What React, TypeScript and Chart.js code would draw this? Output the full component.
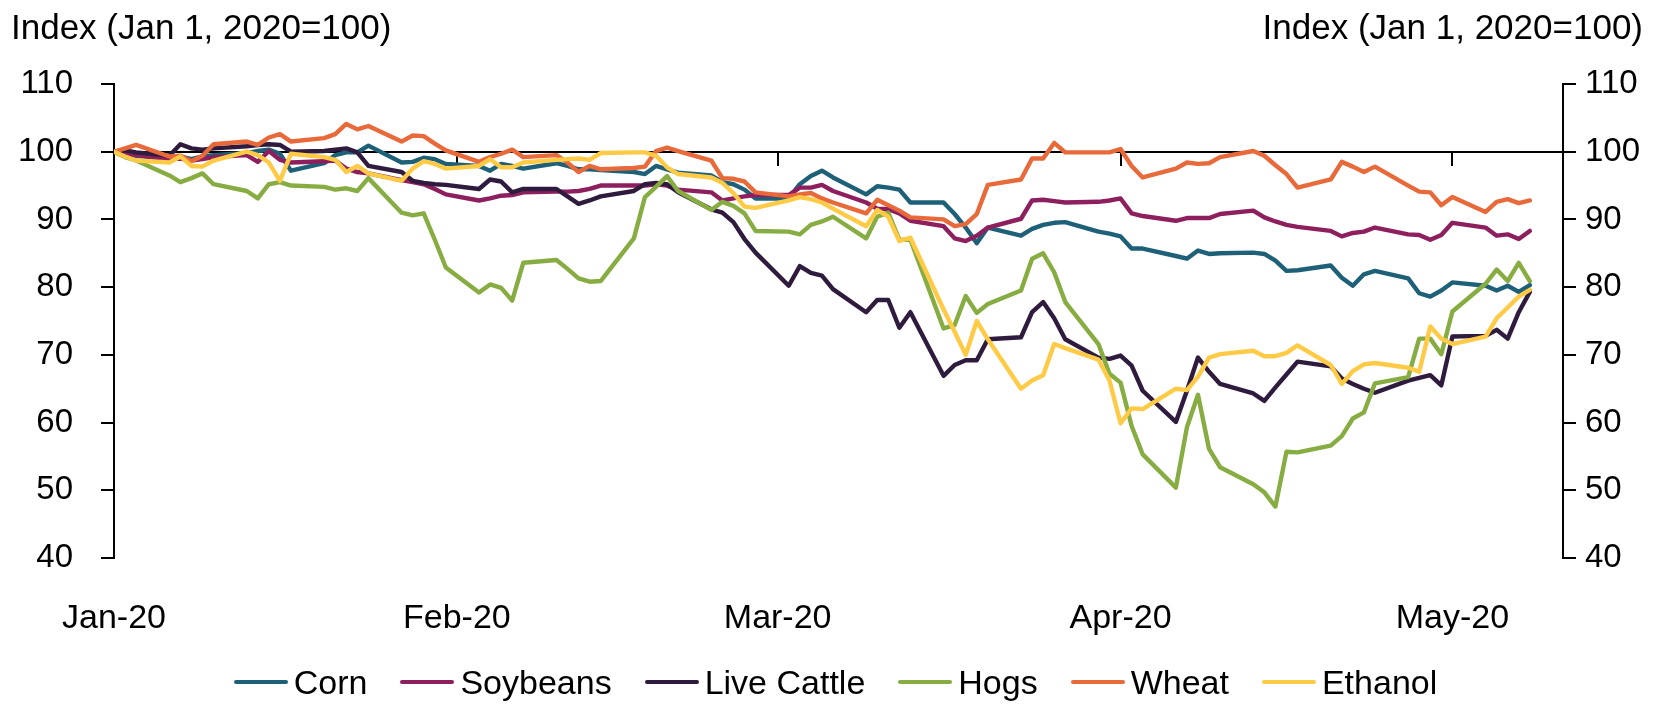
import React, { useEffect, useRef, useMemo } from "react";
import { Chart, registerables } from "chart.js";

Chart.register(...registerables);

// ---------- DATA ----------
const dates = [
  "2020-01-01", "2020-01-02", "2020-01-03",
  "2020-01-06", "2020-01-07", "2020-01-08", "2020-01-09", "2020-01-10",
  "2020-01-13", "2020-01-14", "2020-01-15", "2020-01-16", "2020-01-17",
  "2020-01-20", "2020-01-21", "2020-01-22", "2020-01-23", "2020-01-24",
  "2020-01-27", "2020-01-28", "2020-01-29", "2020-01-30", "2020-01-31",
  "2020-02-03", "2020-02-04", "2020-02-05", "2020-02-06", "2020-02-07",
  "2020-02-10", "2020-02-11", "2020-02-12", "2020-02-13", "2020-02-14",
  "2020-02-17", "2020-02-18", "2020-02-19", "2020-02-20", "2020-02-21",
  "2020-02-24", "2020-02-25", "2020-02-26", "2020-02-27", "2020-02-28",
  "2020-03-02", "2020-03-03", "2020-03-04", "2020-03-05", "2020-03-06",
  "2020-03-09", "2020-03-10", "2020-03-11", "2020-03-12", "2020-03-13",
  "2020-03-16", "2020-03-17", "2020-03-18", "2020-03-19", "2020-03-20",
  "2020-03-23", "2020-03-24", "2020-03-25", "2020-03-26", "2020-03-27",
  "2020-03-30", "2020-03-31", "2020-04-01", "2020-04-02", "2020-04-03",
  "2020-04-06", "2020-04-07", "2020-04-08", "2020-04-09", "2020-04-10",
  "2020-04-13", "2020-04-14", "2020-04-15", "2020-04-16", "2020-04-17",
  "2020-04-20", "2020-04-21", "2020-04-22", "2020-04-23", "2020-04-24",
  "2020-04-27", "2020-04-28", "2020-04-29", "2020-04-30", "2020-05-01",
  "2020-05-04", "2020-05-05", "2020-05-06", "2020-05-07", "2020-05-08",
];

const corn = [
  100, 99.7, 99.4,
  99.0, 99.3, 98.9, 99.3, 99.5,
  99.8, 100.1, 100.3, 99.7, 97.2,
  98.3, 99.5, 99.9, 99.9, 100.9,
  98.4, 98.5, 99.1, 98.9, 98.2,
  97.9, 97.2, 98.2, 97.9, 97.5,
  98.3, 97.9, 97.4, 97.4, 97.3,
  97.0, 96.7, 97.9, 97.4, 96.9,
  96.5, 95.5, 95.2, 94.4, 93.1,
  93.1, 95.2, 96.4, 97.2, 96.2,
  93.7, 94.9, 94.7, 94.4, 92.5,
  92.5, 90.8, 88.8, 86.5, 88.8,
  87.6, 88.6, 89.2, 89.5, 89.6,
  88.2, 87.9, 87.5, 85.7, 85.7,
  84.6, 84.2, 85.4, 84.9, 85.0,
  85.1, 84.9, 83.9, 82.4, 82.5,
  83.2, 81.4, 80.2, 81.9, 82.4,
  81.3, 79.1, 78.6, 79.5, 80.7,
  80.2, 79.5, 80.2, 79.3, 80.3,
];

const soybeans = [
  100, 99.7, 99.5,
  98.9, 99.0, 98.7, 98.9, 99.2,
  99.5, 98.5, 100.1, 98.8, 98.4,
  98.6, 98.7, 97.5, 97.0, 96.8,
  95.8, 95.5, 95.2, 94.5, 93.7,
  92.8, 93.1, 93.5, 93.6, 94.0,
  94.1, 94.1, 94.2, 94.5, 95.0,
  95.0, 95.0, 95.2, 95.0, 94.4,
  94.0, 92.8, 93.1, 93.4, 93.6,
  93.6, 94.7, 94.7, 95.1, 94.2,
  92.5, 91.6, 91.5, 90.9, 89.8,
  89.0, 87.2, 86.8, 87.6, 88.8,
  90.1, 92.8, 92.9, 92.7, 92.5,
  92.6, 92.8, 93.1, 90.9, 90.5,
  89.8, 90.2, 90.2, 90.2, 90.8,
  91.3, 90.3, 89.7, 89.2, 88.9,
  88.3, 87.5, 88.0, 88.2, 88.8,
  87.8, 87.7, 87.0, 87.7, 89.5,
  88.8, 87.6, 87.8, 87.1, 88.3,
];

const liveCattle = [
  100, 100.2, 99.9,
  99.4, 101.1, 100.5, 100.3, 100.5,
  100.8, 101.0, 101.1, 101.0, 100.0,
  100.1, 100.3, 100.5, 99.9, 97.9,
  97.0, 95.7, 95.4, 95.2, 95.1,
  94.5, 95.9, 95.6, 94.0, 94.5,
  94.5, 93.4, 92.3, 92.8, 93.4,
  94.2, 95.2, 95.4, 95.2, 94.0,
  91.5, 91.0, 89.6, 87.1, 85.1,
  80.2, 83.1, 82.1, 81.7, 79.7,
  76.3, 78.1, 78.1, 74.0, 76.3,
  66.9, 68.5, 69.2, 69.2, 72.3,
  72.6, 76.3, 77.8, 75.4, 72.3,
  69.6, 69.4, 69.9, 68.4, 64.7,
  60.1, 64.7, 69.6, 67.5, 65.7,
  64.3, 63.2, 65.2, 67.1, 69.0,
  68.3, 66.5, 65.7, 65.0, 64.4,
  66.2, 66.6, 67.0, 65.5, 72.7,
  72.8, 73.7, 72.4, 76.3, 79.3,
];

const hogs = [
  100, 99.2, 98.7,
  96.5, 95.5, 96.1, 96.8, 95.2,
  94.2, 93.1, 95.2, 95.5, 95.0,
  94.8, 94.4, 94.6, 94.2, 96.1,
  91.0, 90.6, 90.9, 87.0, 82.9,
  79.2, 80.4, 79.9, 78.0, 83.6,
  84.0, 82.7, 81.3, 80.8, 80.9,
  87.2, 93.3, 94.8, 96.4, 94.2,
  91.4, 92.6, 92.0, 90.9, 88.3,
  88.2, 87.8, 89.2, 89.7, 90.4,
  87.2, 90.4, 91.0, 87.0, 87.0,
  73.9, 74.4, 78.7, 76.2, 77.5,
  79.5, 84.2, 85.0, 82.2, 77.8,
  71.6, 67.2, 65.9, 59.5, 55.3,
  50.4, 59.3, 64.1, 56.1, 53.4,
  50.9, 49.7, 47.6, 55.7, 55.6,
  56.6, 58.0, 60.6, 61.5, 65.8,
  66.7, 72.4, 72.4, 70.1, 76.4,
  80.5, 82.6, 80.9, 83.6, 80.9,
];

const wheat = [
  100, 100.5, 101.0,
  99.3, 99.4, 98.6, 99.4, 101.1,
  101.5, 101.0, 102.1, 102.6, 101.5,
  102.0, 102.6, 104.1, 103.3, 103.8,
  101.5, 102.4, 102.3, 101.2, 100.2,
  98.5, 99.2, 99.7, 100.3, 99.2,
  99.5, 98.4, 97.0, 97.9, 97.4,
  97.6, 97.8, 100.1, 100.6, 100.1,
  98.7, 96.1, 96.0, 95.6, 94.0,
  93.4, 93.7, 93.9, 93.1, 92.5,
  90.9, 92.9, 92.1, 91.3, 90.3,
  90.0, 89.0, 89.3, 90.8, 95.1,
  95.9, 99.0, 99.0, 101.3, 99.9,
  99.9, 99.9, 100.4, 97.9, 96.2,
  97.5, 98.4, 98.2, 98.3, 99.2,
  100.1, 99.4, 98.0, 96.7, 94.7,
  95.9, 98.5, 97.8, 97.0, 97.8,
  95.0, 94.1, 94.0, 92.1, 93.3,
  91.1, 92.6, 93.0, 92.4, 92.8,
];

const ethanol = [
  100, 99.3, 98.7,
  98.4, 99.3, 97.9, 97.8, 98.7,
  100.0, 99.5, 98.4, 95.7, 99.7,
  99.2, 98.8, 97.0, 97.9, 96.8,
  95.7, 97.5, 98.6, 98.2, 97.5,
  97.9, 98.9, 97.7, 97.7, 98.4,
  98.8, 98.9, 99.0, 98.8, 99.8,
  99.9, 99.9, 99.4, 97.7, 96.7,
  96.2, 95.4, 93.9, 91.9, 91.7,
  92.8, 93.3, 93.0, 92.5, 91.6,
  89.0, 91.4, 90.4, 86.8, 87.3,
  76.7, 73.4, 70.0, 75.0, 72.3,
  65.0, 66.2, 67.0, 71.6, 71.0,
  69.3, 66.2, 59.9, 62.1, 62.0,
  65.0, 64.8, 66.8, 69.6, 70.1,
  70.6, 69.8, 69.8, 70.3, 71.4,
  68.5, 65.7, 67.6, 68.6, 68.8,
  68.1, 67.5, 74.2, 72.4, 71.6,
  72.7, 75.4, 77.0, 78.6, 79.6,
];

const seriesNames = ["Corn", "Soybeans", "Live Cattle", "Hogs", "Wheat", "Ethanol"];
const seriesColors = ["#1F6079", "#8E1F5F", "#2F1B3E", "#87AC42", "#E86A3A", "#FFCA45"];
const seriesValues = [corn, soybeans, liveCattle, hogs, wheat, ethanol];

const monthTickDates = ["2020-01-01", "2020-02-01", "2020-03-01", "2020-04-01", "2020-05-01"];
const monthTickLabels = ["Jan-20", "Feb-20", "Mar-20", "Apr-20", "May-20"];
const axisStartDate = "2020-01-01";
const axisEndDate = "2020-05-11";
const yMin = 40;
const yMax = 110;
const yStep = 10;
const baseline = 100;
const axisTitle = "Index (Jan 1, 2020=100)";

// ---------- HELPERS ----------
const dayOf = (s: string) =>
  (Date.parse(s + "T00:00:00Z") - Date.parse(axisStartDate + "T00:00:00Z")) / 86400000;

const REGULAR = "'Liberation Sans', Arial, Helvetica, sans-serif";
const W = 1671;
const H = 710;

function fontAvailable(name: string): boolean {
  const ctx = document.createElement("canvas").getContext("2d");
  if (!ctx) return false;
  const s = "mmmmmmmmmmlli1WQ0123456789";
  ctx.font = "40px monospace";
  const a = ctx.measureText(s).width;
  ctx.font = `40px '${name}', monospace`;
  const b = ctx.measureText(s).width;
  return Math.abs(a - b) > 0.5;
}

function pickNarrow() {
  for (const n of ["Liberation Sans Narrow", "Arial Narrow"]) {
    if (fontAvailable(n)) return { family: `'${n}', ${REGULAR}`, scale: 1 };
  }
  return { family: REGULAR, scale: 0.84 };
}

export default function App() {
  const canvasRef = useRef<HTMLCanvasElement | null>(null);
  const narrow = useMemo(pickNarrow, []);
  const tickSize = Math.round(39 * narrow.scale);
  const labelSize = Math.round(41 * narrow.scale);

  useEffect(() => {
    const canvas = canvasRef.current;
    if (!canvas) return;
    Chart.defaults.font.family = narrow.family;
    Chart.defaults.color = "#000";

    const xDays = dates.map(dayOf);
    const monthTicks = monthTickDates.map(dayOf);
    const xMax = dayOf(axisEndDate);

    const datasets = seriesNames.map((name, i) => ({
      label: name,
      data: seriesValues[i].map((v, k) => ({ x: xDays[k], y: v })),
      borderColor: seriesColors[i],
      backgroundColor: seriesColors[i],
      borderWidth: 4.4,
      pointRadius: 0,
      pointHoverRadius: 0,
      tension: 0,
      fill: false,
      borderJoinStyle: "round" as const,
      borderCapStyle: "round" as const,
      order: seriesNames.length - i,
      xAxisID: "x",
      yAxisID: "y",
    }));

    const yAxisCommon = {
      type: "linear" as const,
      min: yMin,
      max: yMax,
      ticks: { stepSize: yStep, font: { size: tickSize, family: narrow.family }, color: "#000" },
      grid: { drawOnChartArea: false, drawTicks: true, tickLength: 13, color: "#000", lineWidth: 2 },
      border: { display: true, color: "#000", width: 2 },
    };

    const chart = new Chart(canvas, {
      type: "line",
      data: { datasets },
      options: {
        animation: false,
        responsive: false,
        maintainAspectRatio: false,
        layout: { padding: { top: 84, left: 0, right: 0, bottom: 0 } },
        plugins: {
          title: { display: false },
          tooltip: { enabled: false },
          legend: { display: false },
        },
        scales: {
          x: {
            type: "linear",
            min: 0,
            max: xMax,
            position: { y: baseline } as any,
            afterBuildTicks: (axis: any) => {
              axis.ticks = monthTicks.map((v) => ({ value: v }));
            },
            ticks: { display: false },
            grid: { drawOnChartArea: false, drawTicks: true, tickLength: 13, color: "#000", lineWidth: 2 },
            border: { display: true, color: "#000", width: 2 },
          },
          x2: {
            type: "linear",
            min: 0,
            max: xMax,
            position: "bottom",
            afterBuildTicks: (axis: any) => {
              axis.ticks = monthTicks.map((v) => ({ value: v }));
            },
            ticks: {
              autoSkip: false,
              maxRotation: 0,
              padding: 32,
              font: { size: labelSize, family: narrow.family },
              color: "#000",
              callback: (_v: any, i: number) => monthTickLabels[i],
            },
            grid: { display: false },
            border: { display: false },
            afterFit: (axis: any) => {
              axis.height = H - 558;
            },
          },
          y: {
            ...yAxisCommon,
            position: "left",
            ticks: { ...yAxisCommon.ticks, padding: 28 },
            afterFit: (axis: any) => {
              axis.width = 114;
            },
          },
          y2: {
            ...yAxisCommon,
            position: "right",
            ticks: { ...yAxisCommon.ticks, padding: 9 },
            afterFit: (axis: any) => {
              axis.width = W - 1563;
            },
          },
        },
      } as any,
    });

    return () => chart.destroy();
  }, [narrow, tickSize, labelSize]);

  const titleStyle: React.CSSProperties = {
    position: "absolute",
    top: 9,
    fontFamily: REGULAR,
    fontSize: 35,
    lineHeight: "35px",
    color: "#000",
    whiteSpace: "nowrap",
  };

  return (
    <div style={{ position: "fixed", left: 0, top: 0, width: W, height: H, background: "#fff", overflow: "hidden" }}>
      <canvas ref={canvasRef} width={W} height={H} style={{ position: "absolute", left: 0, top: 0 }} />
      <div style={{ ...titleStyle, left: 11 }}>{axisTitle}</div>
      <div style={{ ...titleStyle, right: 28 }}>{axisTitle}</div>
      <div
        style={{
          position: "absolute",
          left: 0,
          top: 665,
          width: W,
          display: "flex",
          justifyContent: "center",
          alignItems: "center",
          fontFamily: narrow.family,
          fontSize: labelSize,
          lineHeight: `${labelSize}px`,
          color: "#000",
          whiteSpace: "nowrap",
        }}
      >
        {seriesNames.map((name, i) => (
          <div key={name} style={{ display: "flex", alignItems: "center", marginLeft: i === 0 ? 0 : 33 }}>
            <span
              style={{
                display: "inline-block",
                width: 54,
                height: 4,
                borderRadius: 2,
                background: seriesColors[i],
                marginRight: 6,
              }}
            />
            <span>{name}</span>
          </div>
        ))}
      </div>
    </div>
  );
}
